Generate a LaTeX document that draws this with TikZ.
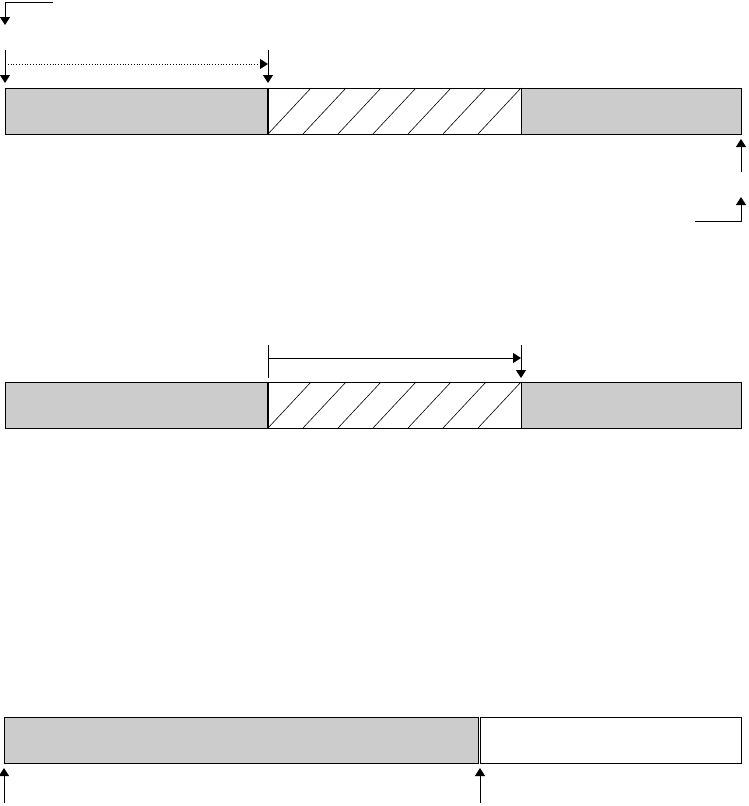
\documentclass[tikz,border=0pt]{standalone}
\usetikzlibrary{arrows.meta}
\definecolor{barfill}{HTML}{CCCCCC}

\begin{document}
\begin{tikzpicture}[x=1pt, y=-1pt, line width=0.8pt,
    part/.style={draw, inner sep=0pt, outer sep=0pt, minimum height=46pt, anchor=north west},
    greypart/.style={part, fill=barfill},
    tip/.style={-{Triangle[width=10pt,length=8pt]}}]
    \useasboundingbox (0,0) rectangle (748,806);
    % upper bar
    \node[greypart, minimum width=263pt] (a1) at (5,88) {};
    \node[part, minimum width=253pt] (a2) at (268,88) {};
    \node[greypart, minimum width=220pt] (a3) at (521,88) {};
    % middle bar
    \node[greypart, minimum width=263pt] (b1) at (5,382) {};
    \node[part, minimum width=253pt] (b2) at (268,382) {};
    \node[greypart, minimum width=220pt] (b3) at (521,382) {};
    % lower bar
    \node[greypart, minimum width=474.5pt] (c1) at (4,717) {};
    \node[part, minimum width=261pt] (c2) at (480,717) {};
    \foreach \b in {a2,b2} {
      \foreach \k in {0,...,6}
        \draw[line width=0.6pt] ([xshift=\k*35pt]\b.south west) -- ([xshift=\k*35pt+43pt]\b.north west);
      \draw[line width=2pt] (\b.north west) -- (\b.south west);
    }
    % arrows, upper bar
    \coordinate (tl) at (53,2);
    \coordinate (tla) at (5,25);
    \draw[tip] (tl) -| (tla);
    \draw[tip] ([yshift=38pt]a1.north west) -- ([yshift=5pt]a1.north west);
    \draw[tip] ([yshift=38pt]a2.north west) -- ([yshift=5pt]a2.north west);
    \draw[tip, dotted] ([yshift=24pt]a1.north west) -- ([yshift=24pt]a2.north west);
    \draw[tip] ([yshift=-38pt]a3.south east) -- ([yshift=-5pt]a3.south east);
    \coordinate (br) at (695,221);
    \draw[tip] (br) -| ([yshift=-63pt]a3.south east);
    % arrows, middle bar
    \draw ([yshift=37pt]b2.north west) -- ([yshift=4pt]b2.north west);
    \draw[tip] ([yshift=24pt]b2.north west) -- ([yshift=24pt]b2.north east);
    \draw[tip] ([yshift=37pt]b2.north east) -- ([yshift=4pt]b2.north east);
    % arrows, lower bar
    \draw[tip] ([yshift=-40pt]c1.south west) -- ([yshift=-5pt]c1.south west);
    \draw[tip] ([yshift=-40pt]c2.south west) -- ([yshift=-5pt]c2.south west);
\end{tikzpicture}
\end{document}
